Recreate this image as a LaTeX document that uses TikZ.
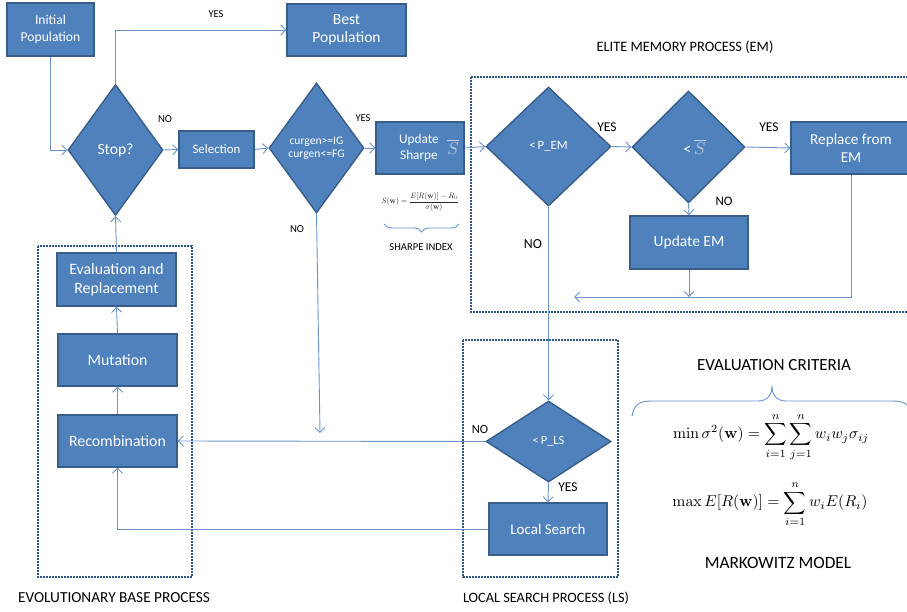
\documentclass[tikz,border=0pt]{standalone}
\usepackage[no-math]{fontspec}
\setmainfont{Carlito}
\usepackage{amsmath}
\usepackage{graphicx}
\usetikzlibrary{shapes.geometric,arrows.meta,decorations.pathreplacing}
\definecolor{boxfill}{HTML}{4F81BD}
\definecolor{boxline}{HTML}{385D8A}
\definecolor{conn}{HTML}{6A93C9}
\definecolor{framecol}{HTML}{2F5587}
\definecolor{sbarcol}{HTML}{C9CFDC}
\newcommand{\fsz}[2]{\fontsize{#1}{#2}\selectfont}
\tikzset{
  procbox/.style={rectangle, draw=boxline, fill=boxfill, line width=1.4pt, text=white, align=center, inner sep=0pt},
  decision/.style={diamond, draw=boxline, fill=boxfill, line width=1.4pt, text=white, align=center, inner sep=0pt},
  link/.style={draw=conn, line width=0.9pt, -{Straight Barb[length=5pt,width=10pt]}},
  plainline/.style={draw=conn, line width=0.9pt},
  lbl/.style={text=black, inner sep=0pt},
  dotframe/.style={draw=framecol, line width=2pt, dash pattern=on 1.6pt off 1.4pt},
}
\begin{document}
\begin{tikzpicture}[x=1pt,y=-1pt]
\useasboundingbox (0,0) rectangle (907,612);
% frames
\draw[dotframe] (38,246) rectangle (192,577);
\draw[dotframe] (471,77) rectangle (915,312);
\draw[dotframe] (463,340) rectangle (618,577);
% process boxes
\node[procbox, minimum width=87pt, minimum height=53pt, font=\fsz{13.6}{17}] (init) at (50.5,29.5) {Initial\\Population};
\node[procbox, minimum width=119pt, minimum height=52pt, font=\fsz{15.6}{18}] (best) at (346.5,30) {Best\\Population};
\node[decision, minimum width=95pt, minimum height=131pt, font=\fsz{15.6}{18}] (stop) at (115.5,150) {Stop?};
\node[procbox, minimum width=75pt, minimum height=37pt, font=\fsz{12.9}{15}] (sel) at (216.5,149.5) {Selection};
\node[decision, minimum width=95pt, minimum height=130pt, font=\fsz{11.6}{13}] (cg) at (316.5,148) {curgen>=IG\\curgen<=FG};
\node[procbox, minimum width=88pt, minimum height=52pt] (ush) at (420,148) {};
\node[lbl, text=white, font=\fsz{13.3}{15.5}, align=center] (ushtxt) at (419,148) {Update\\Sharpe};
\node[lbl, text=sbarcol, font=\fsz{17}{20}] (ushbar) at (453,147) {$\overline{S}$};
\node[decision, minimum width=125pt, minimum height=119pt, font=\fsz{12.7}{15}] (pem) at (548.5,146.5) {<\,P\_EM};
\node[decision, minimum width=113pt, minimum height=112pt, font=\fsz{16}{18}] (sb) at (688.5,147) {\hspace*{12pt}<\,\textcolor{sbarcol}{$\overline{S}$}};
\node[procbox, minimum width=120pt, minimum height=52pt, font=\fsz{15.2}{18}] (rep) at (851,148) {Replace from\\EM};
\node[procbox, minimum width=118pt, minimum height=53pt, font=\fsz{15.5}{18}] (uem) at (689,242.5) {Update EM};
\node[procbox, minimum width=119pt, minimum height=53pt, font=\fsz{15.8}{19}] (eval) at (116.5,279.5) {Evaluation and\\Replacement};
\node[procbox, minimum width=119pt, minimum height=52pt, font=\fsz{15.8}{19}] (mut) at (117.5,360) {Mutation};
\node[procbox, minimum width=119pt, minimum height=52pt, font=\fsz{15.8}{19}] (rec) at (117.5,441) {Recombination};
\node[decision, minimum width=125pt, minimum height=81pt, font=\fsz{12.5}{15}] (pls) at (548.5,441.5) {<\,P\_LS};
\node[procbox, minimum width=118pt, minimum height=52pt, font=\fsz{15}{18}] (ls) at (548,529) {Local Search};
% connectors
\coordinate (emret) at (574,297);
\coordinate (cgend) at (320,433);
\draw[link] (init.south) |- (stop.west);
\draw[link] (stop.north) |- (best.west);
\draw[link] (stop.east) -- (sel.west);
\draw[link] (sel.east) -- (cg.west);
\draw[link] (cg.east) -- (ush.west);
\draw[link] (ush.east) -- (pem.west);
\draw[link] (pem.east) -- (sb.west);
\draw[link] (sb.east) -- (rep.west);
\draw[link] (sb.south) -- (uem.north);
\draw[link] (rep.south) |- (emret);
\draw[link] (uem.south) -- (uem.south |- emret);
\draw[link] (pem.south) -- (pls.north);
\draw[link] (pls.south) -- (ls.north);
\draw[link] (pls.west) -- (rec.east);
\draw[link] (ls.west) -| (rec.south);
\draw[link] (rec.north) -- (mut.south);
\draw[link] (mut.north) -- (eval.south);
\draw[link] (eval.north) -- (stop.south);
\draw[link] (cg.south) -- (cgend);
% labels
\node[lbl, font=\fsz{10.5}{12}] (l1) at (216,14) {YES};
\node[lbl, font=\fsz{10.7}{12}] (l2) at (165,119) {NO};
\node[lbl, font=\fsz{10.5}{12}] (l3) at (363,118) {YES};
\node[lbl, font=\fsz{10.7}{12}] (l4) at (297,229) {NO};
\node[lbl, font=\fsz{13.5}{15}] (l5) at (607,127) {YES};
\node[lbl, font=\fsz{13.5}{15}] (l6) at (769,127) {YES};
\node[lbl, font=\fsz{13}{15}] (l7) at (724,201) {NO};
\node[lbl, font=\fsz{13.8}{15}] (l8) at (533,244) {NO};
\node[lbl, font=\fsz{12.5}{15}] (l9) at (480,429) {NO};
\node[lbl, font=\fsz{13.5}{15}] (l10) at (568,487) {YES};
\node[lbl, font=\fsz{10.6}{12}] (sharpeidx) at (421,247) {SHARPE INDEX};
\node[lbl, font=\fsz{14.4}{17}] (emtitle) at (685,47) {ELITE MEMORY PROCESS (EM)};
\node[lbl, font=\fsz{17}{20}] (evtitle) at (774,365) {EVALUATION CRITERIA};
\node[lbl, font=\fsz{17.3}{20}] (mktitle) at (778,563) {MARKOWITZ MODEL};
\node[lbl, font=\fsz{14.3}{17}] (lstitle) at (546,598) {LOCAL SEARCH PROCESS (LS)};
\node[lbl, font=\fsz{15.3}{18}] (ebtitle) at (114,598) {EVOLUTIONARY BASE PROCESS};
% formulas
\node[lbl, text=black!85] (sharpe) at (420,202) {\resizebox{77pt}{!}{$S(\mathbf{w})=\dfrac{E[R(\mathbf{w})]-R_0}{\sigma(\mathbf{w})}$}};
\node[lbl] (mk1) at (771,437) {\resizebox{196pt}{!}{$\displaystyle\min\sigma^2(\mathbf{w})=\sum_{i=1}^{n}\sum_{j=1}^{n}w_iw_j\sigma_{ij}$}};
\node[lbl] (mk2) at (770,504) {\resizebox{195pt}{!}{$\displaystyle\max E[R(\mathbf{w})]=\sum_{i=1}^{n}w_iE(R_i)$}};
% braces
\draw[plainline, decorate, decoration={brace, amplitude=8pt, mirror}] (384,224) -- (459,224);
\draw[plainline] (632,416) .. controls (634,404) and (640,401) .. (652,401) -- (758,401) .. controls (768,401) and (772,394) .. (772,387) .. controls (772,394) and (776,401) .. (786,401) -- (892,401) .. controls (904,401) and (910,404) .. (912,416);
\end{tikzpicture}
\end{document}
